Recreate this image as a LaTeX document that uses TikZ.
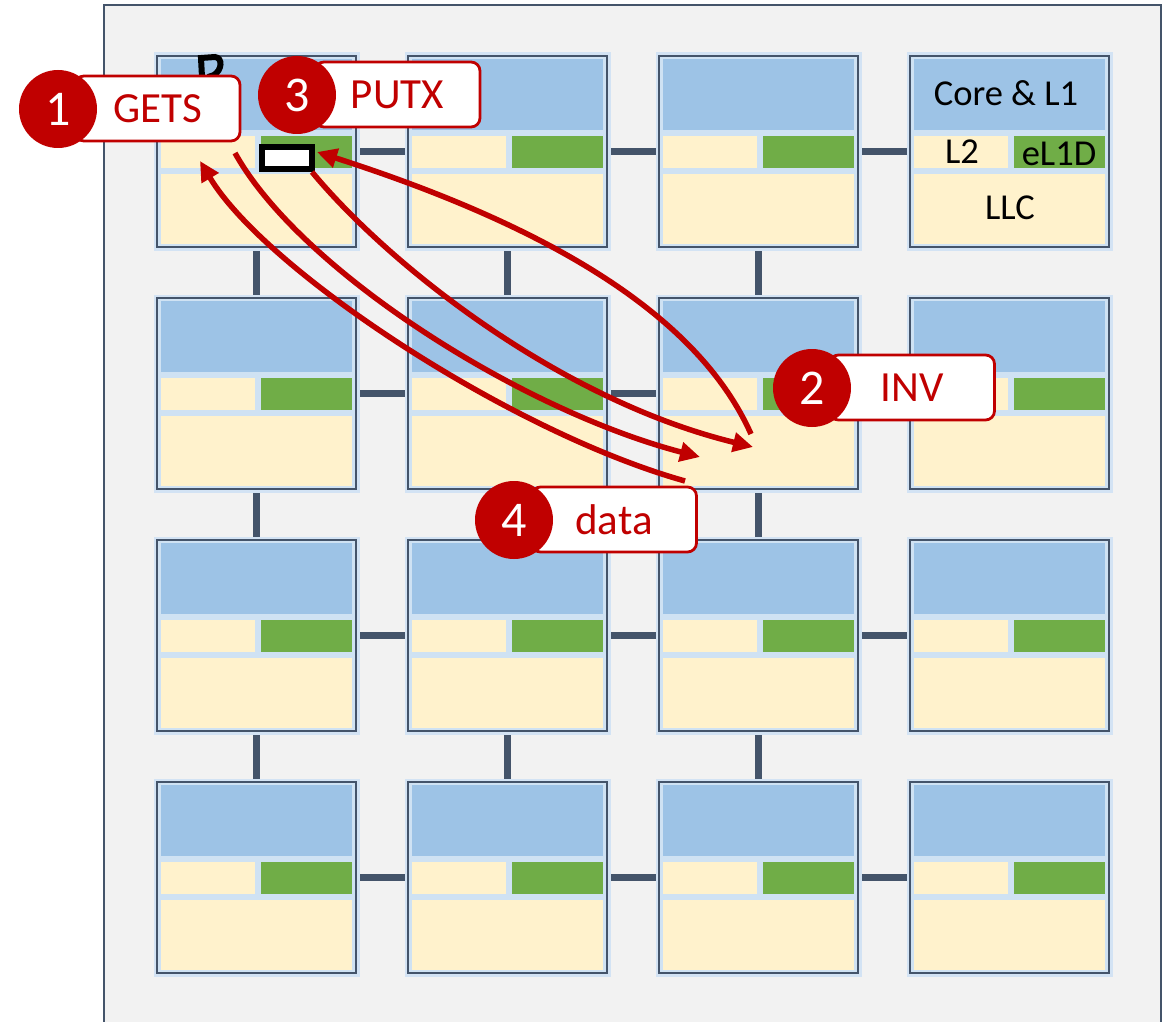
\documentclass[tikz,border=0pt]{standalone}
\usepackage{fontspec}
\setmainfont{Carlito}
\usetikzlibrary{arrows.meta}

\definecolor{panelbg}{HTML}{F2F2F2}
\definecolor{slate}{HTML}{44546A}
\definecolor{glow}{HTML}{D3E3F4}
\definecolor{tileback}{HTML}{CFE2F3}
\definecolor{corefill}{HTML}{9DC3E6}
\definecolor{cream}{HTML}{FFF2CC}
\definecolor{eldgreen}{HTML}{70AD47}
\definecolor{darkred}{HTML}{C00000}

\tikzset{
  tilebox/.style={draw=slate, line width=2.8pt, fill=tileback,
    minimum width=199pt, minimum height=191pt, inner sep=0pt, outer sep=0pt,
    preaction={draw=glow, line width=7pt}},
  link/.style={draw=slate, line width=7.5pt},
  tiletext/.style={font=\fontsize{36.5}{42}\selectfont, inner sep=0pt},
  msgbox/.style={draw=darkred, fill=white, line width=2.8pt, rounded corners=9pt,
    minimum width=165pt, minimum height=65pt, inner sep=0pt, text=darkred,
    font=\fontsize{43}{50}\selectfont},
  stepdot/.style={circle, fill=darkred, minimum size=78pt, inner sep=0pt,
    text=white, font=\fontsize{50}{58}\selectfont},
  msg/.style={draw=darkred, line width=5.5pt,
    -{Triangle[length=20pt,width=19pt]}}
}

\begin{document}
\begin{tikzpicture}[x=1pt, y=-1pt]
\useasboundingbox (0,0) rectangle (1163,1022);

% chip outline
\draw[slate, fill=panelbg, line width=2pt] (104,5) rectangle (1161,1040);

% tile centres
\foreach \r/\y in {1/56,2/298,3/540,4/782}
  \foreach \c/\x in {1/157,2/408,3/659,4/910}
    \coordinate (c\r\c) at ({\x+99.5},{\y+95.5});

% mesh links
\foreach \r in {1,2,3,4}{
  \draw[link] (c\r1) -- (c\r2);
  \draw[link] (c\r2) -- (c\r3);
  \draw[link] (c\r3) -- (c\r4);
}
\foreach \c in {1,2,3}{
  \draw[link] (c1\c) -- (c2\c);
  \draw[link] (c2\c) -- (c3\c);
  \draw[link] (c3\c) -- (c4\c);
}

% tiles: core & L1, L2, eL1D, LLC
\foreach \r/\y in {1/56,2/298,3/540,4/782}
  \foreach \c/\x in {1/157,2/408,3/659,4/910}{
    \node[tilebox] (t\r\c) at (c\r\c) {};
    \fill[corefill] (\x+4,\y+3) rectangle (\x+195,\y+74);
    \fill[cream]    (\x+4,\y+80) rectangle (\x+98,\y+112);
    \fill[eldgreen] (\x+104,\y+80) rectangle (\x+195,\y+112);
    \fill[cream]    (\x+4,\y+118) rectangle (\x+195,\y+188);
  }

% legend text in the top right tile
\node[tiletext] (corelbl) at (1006,93) {Core \& L1};
\node[tiletext] (l2lbl)   at (962,152) {L2};
\node[tiletext] (el1dlbl) at (1059,154) {eL1D};
\node[tiletext] (llclbl)  at (1010,208) {LLC};

% partly hidden mark above the first tile
\draw[line width=6pt, black] (202,77) -- (201,58) -- (215,57)
  .. controls (223,58) and (222,70) .. (214,75) -- (208,77);

% cached block in the first tile's eL1D
\node[draw=black, fill=white, line width=6pt, minimum width=50pt,
  minimum height=22pt, inner sep=0pt] (blk) at (287,158) {};

% message end points
\coordinate (getsfrom) at (235,153);
\coordinate (getsto)   at (700,457);
\coordinate (putxfrom) at (312,172);
\coordinate (putxto)   at (753,447);
\coordinate (invfrom)  at (751,434);
\coordinate (invto)    at (317,152);
\coordinate (datafrom) at (685,481);
\coordinate (datato)   at (200,161);

% messages
\draw[msg] (getsfrom) .. controls (300,270) and (520,410) .. (getsto);
\draw[msg] (putxfrom) .. controls (390,266) and (560,400) .. (putxto);
\draw[msg] (invfrom)  .. controls (700,320) and (560,230) .. (invto);
\draw[msg] (datafrom) .. controls (510,432) and (265,270) .. (datato);

% step labels
\node[msgbox]  (getsbox) at (157.5,108.5) {GETS};
\node[stepdot] (one)     at (58,109) {1};
\node[msgbox]  (putxbox) at (397.5,94.5) {PUTX};
\node[stepdot] (three)   at (297,95) {3};
\node[msgbox]  (invbox)  at (912,387.5) {INV};
\node[stepdot] (two)     at (812,388) {2};
\node[msgbox]  (databox) at (614,519.5) {data};
\node[stepdot] (four)    at (514,520) {4};
\end{tikzpicture}
\end{document}
